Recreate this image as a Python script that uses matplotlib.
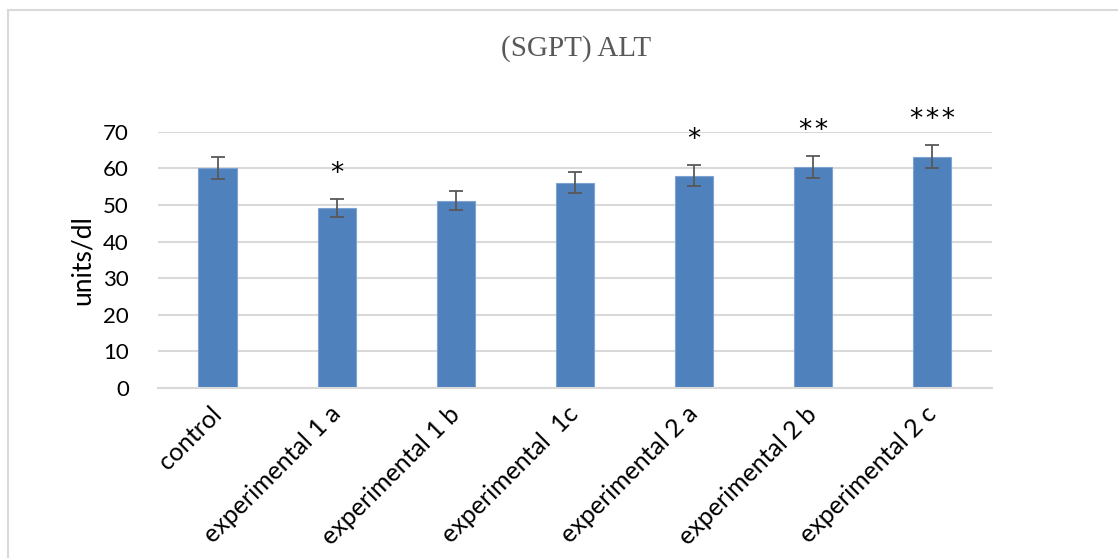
import numpy as np
import matplotlib
matplotlib.use("Agg")
import matplotlib.pyplot as plt
from matplotlib.patches import Rectangle

groups = ['control', 'experimental 1 a', 'experimental 1 b', 'experimental  1c',
          'experimental 2 a', 'experimental 2 b', 'experimental 2 c']
means = [60.0, 49.1, 51.2, 56.1, 58.0, 60.4, 63.2]
sds = [3.0, 2.5, 2.6, 2.8, 2.9, 3.0, 3.2]
stars = ['', '*', '', '', '*', '**', '***']
yticks = [0, 10, 20, 30, 40, 50, 60, 70]

plt.rcParams['font.family'] = ['Lato', 'DejaVu Sans']

fig = plt.figure(figsize=(11.18, 5.58), dpi=100)
ax = fig.add_axes([0.1413, 0.3047, 0.746, 0.4593])

# light frame around the chart area
fig.patches.append(Rectangle((8 / 1118, -0.1), 1.2, 1.1 - 10 / 558,
                             transform=fig.transFigure, fill=False,
                             edgecolor='#d9d9d9', lw=1.5))

x = np.arange(len(groups))
ax.bar(x, means, width=0.32, color='#4f81bd', edgecolor='#7ea3d1', lw=0.8, zorder=2)
ax.errorbar(x, means, yerr=sds, fmt='none', ecolor='#595959', elinewidth=1.3,
            capsize=5, capthick=1.3, zorder=3)

for xi, m, s, st in zip(x, means, sds, stars):
    if st:
        ax.text(xi, m + s + 6.8, '\u200a'.join(st), ha='center', va='center',
                fontsize=19, color='black', family='DejaVu Sans', clip_on=False)

ax.set_xlim(-0.5, len(groups) - 0.5)
ax.set_ylim(0, 70)
ax.set_yticks(yticks)
ax.set_yticklabels([str(v) for v in yticks], fontsize=16, color='black')
ax.yaxis.grid(True, color='#d9d9d9', lw=1.5, zorder=0)
ax.set_axisbelow(True)
ax.tick_params(axis='both', length=0)
ax.tick_params(axis='y', pad=21)
for sp in ['top', 'right', 'left']:
    ax.spines[sp].set_visible(False)
ax.spines['bottom'].set_color('#d9d9d9')
ax.spines['bottom'].set_linewidth(1.5)

ax.set_xticks(x)
ax.set_xticklabels(groups, rotation=45, ha='right', va='center',
                   rotation_mode='anchor', fontsize=18)
ax.tick_params(axis='x', pad=16)

ax.set_ylabel('units/dl', fontsize=19, labelpad=6)

fig.text(0.515, 1 - 49 / 558, '(SGPT) ALT', ha='center', va='center',
         fontsize=21, color='#595959', family='Liberation Serif')

fig.savefig('out.png', dpi=100)
